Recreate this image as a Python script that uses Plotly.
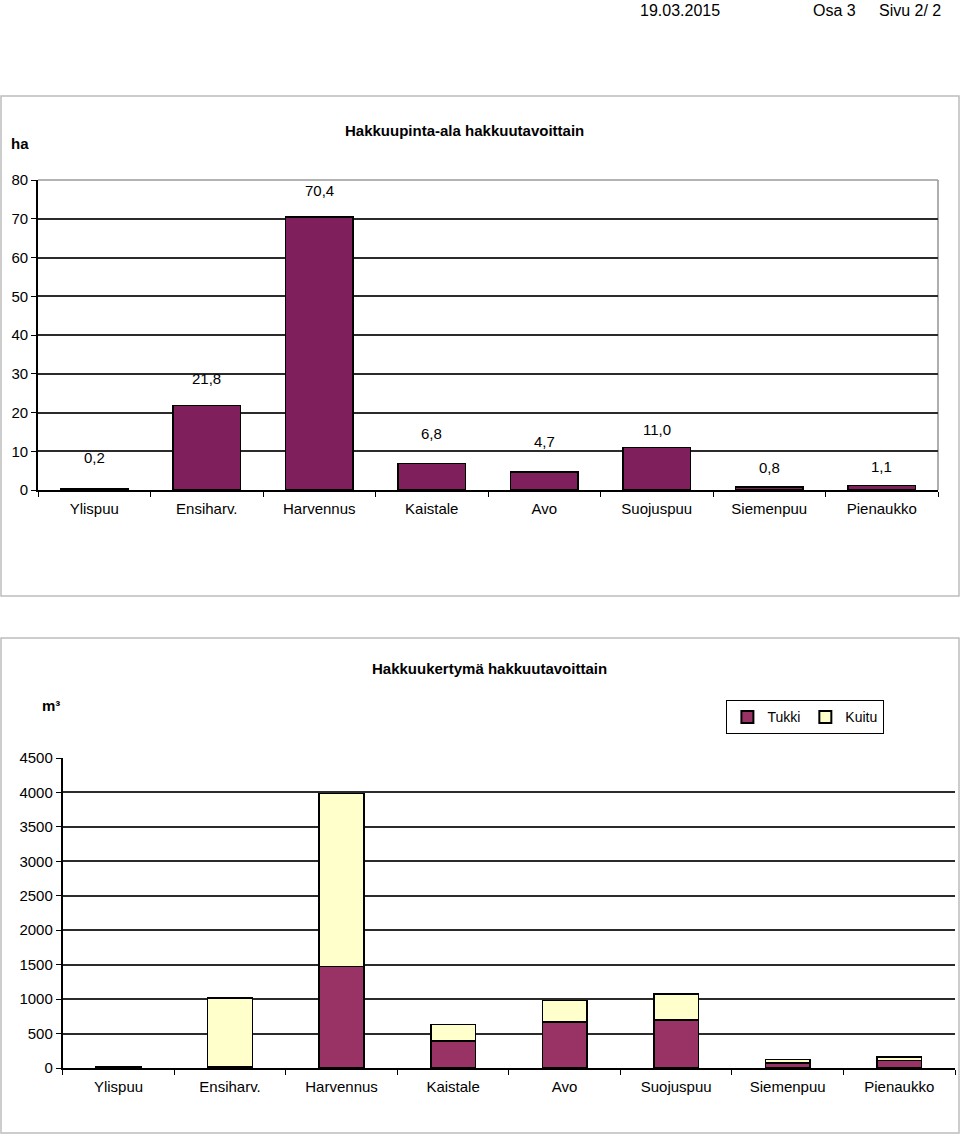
import plotly.graph_objects as go

# ---- data ----
categories = ["Ylispuu", "Ensiharv.", "Harvennus", "Kaistale", "Avo",
              "Suojuspuu", "Siemenpuu", "Pienaukko"]
area_ha = [0.2, 21.8, 70.4, 6.8, 4.7, 11.0, 0.8, 1.1]
area_labels = ["0,2", "21,8", "70,4", "6,8", "4,7", "11,0", "0,8", "1,1"]
tukki = [12, 20, 1470, 392, 668, 697, 73, 111]
kuitu = [8, 995, 2518, 242, 315, 377, 48, 49]
top_yticks = [0, 10, 20, 30, 40, 50, 60, 70, 80]
bot_yticks = [0, 500, 1000, 1500, 2000, 2500, 3000, 3500, 4000, 4500]

# ---- style / layout ----
W, H = 960, 1136
FONT = "Liberation Sans, Arial, sans-serif"
label_shift = [32, 27, 27, 30, 30, 18, 19, 19]

def px_x(v):
    return v / W

def px_y(v):
    return 1 - v / H

top_dom_x = [px_x(38), px_x(938)]
top_dom_y = [px_y(490), px_y(180)]
bot_dom_x = [px_x(62.7), px_x(955)]
bot_dom_y = [px_y(1068), px_y(758)]

fig = go.Figure()

fig.add_trace(go.Bar(
    x=categories, y=area_ha, xaxis="x", yaxis="y", width=0.6,
    marker=dict(color="#7F1F5C", line=dict(color="#000000", width=1.5)),
    showlegend=False, hoverinfo="x+y"))

fig.add_trace(go.Bar(
    x=categories, y=tukki, name="Tukki", xaxis="x2", yaxis="y2", width=0.4,
    marker=dict(color="#993366", line=dict(color="#000000", width=1.5))))
fig.add_trace(go.Bar(
    x=categories, y=kuitu, name="Kuitu", xaxis="x2", yaxis="y2", width=0.4,
    marker=dict(color="#FFFFCC", line=dict(color="#000000", width=1.5))))

axis_font = dict(family=FONT, size=15, color="#000000")

def cat_axis(dom, anchor):
    return dict(domain=dom, anchor=anchor, type="category", automargin=False,
                showline=True, linecolor="#000000", linewidth=1.8,
                ticks="outside", tickson="boundaries", ticklen=5,
                tickcolor="#000000", tickwidth=1.3,
                tickfont=axis_font, ticklabelstandoff=4,
                showgrid=False, fixedrange=True)

def val_axis(dom, anchor, rng, tv):
    return dict(domain=dom, anchor=anchor, range=rng, tickvals=tv,
                automargin=False,
                showline=True, linecolor="#000000", linewidth=1.8,
                ticks="outside", ticklen=5, tickcolor="#000000",
                tickwidth=1.3, tickfont=axis_font,
                showgrid=True, gridcolor="#2b2b2b", gridwidth=1.6,
                zeroline=False, fixedrange=True)

fig.update_layout(
    template="none",
    width=W, height=H, autosize=False,
    margin=dict(l=0, r=0, t=0, b=0, pad=0, autoexpand=False),
    paper_bgcolor="white", plot_bgcolor="white",
    barmode="stack",
    font=dict(family=FONT, size=15, color="#000000"),
    xaxis=cat_axis(top_dom_x, "y"),
    yaxis=val_axis(top_dom_y, "x", [0, 80], top_yticks),
    xaxis2=cat_axis(bot_dom_x, "y2"),
    yaxis2=val_axis(bot_dom_y, "x2", [0, 4500], bot_yticks),
    legend=dict(orientation="h", x=px_x(884), y=px_y(700),
                xanchor="right", yanchor="top",
                traceorder="normal",
                bordercolor="#000000", borderwidth=1.4,
                bgcolor="white",
                font=dict(family=FONT, size=14, color="#000000"),
                itemwidth=30, itemsizing="constant"),
)

def note(x, y, text, size=15):
    return dict(x=px_x(x), y=px_y(y), xref="paper", yref="paper",
                xanchor="center", yanchor="middle",
                text=text, showarrow=False,
                font=dict(family=FONT, size=size, color="#000000"))

annotations = []
for cat, val, lab, sh in zip(categories, area_ha, area_labels, label_shift):
    annotations.append(dict(x=cat, y=val, xref="x", yref="y", text=lab,
                            xanchor="center", yanchor="middle",
                            showarrow=False, yshift=sh,
                            font=dict(family=FONT, size=15, color="#000000")))

annotations += [
    note(464, 130, "<b>Hakkuupinta-ala hakkuutavoittain</b>"),
    note(20, 143, "<b>ha</b>"),
    note(489, 668, "<b>Hakkuukertymä hakkuutavoittain</b>"),
    note(51, 705, "<b>m³</b>"),
    note(680, 11, "19.03.2015", 16),
    note(834, 11, "Osa 3", 16),
    note(910, 11, "Sivu 2/ 2", 16),
]
fig.update_layout(annotations=annotations)

shapes = [
    dict(type="rect", xref="paper", yref="paper",
         x0=px_x(1), x1=px_x(959), y0=px_y(596), y1=px_y(96),
         line=dict(color="#BDBDBD", width=1.5), layer="below"),
    dict(type="rect", xref="paper", yref="paper",
         x0=px_x(1), x1=px_x(959), y0=px_y(1133), y1=px_y(638),
         line=dict(color="#BDBDBD", width=1.5), layer="below"),
    dict(type="line", xref="paper", yref="paper",
         x0=top_dom_x[0], x1=top_dom_x[1], y0=top_dom_y[1], y1=top_dom_y[1],
         line=dict(color="#9A9A9A", width=1.6), layer="above"),
    dict(type="line", xref="paper", yref="paper",
         x0=top_dom_x[1], x1=top_dom_x[1], y0=top_dom_y[0], y1=top_dom_y[1],
         line=dict(color="#9A9A9A", width=1.6), layer="below"),
]
fig.update_layout(shapes=shapes)

page_fix = (
    "document.documentElement.style.margin='0';"
    "document.documentElement.style.padding='0';"
    "document.documentElement.style.overflow='hidden';"
    "document.body.style.margin='0';"
    "document.body.style.padding='0';"
    "document.body.style.overflow='hidden';"
    "var gd=document.getElementById('{plot_id}');"
    "gd.style.position='absolute';gd.style.top='0px';gd.style.left='0px';"
)

fig.write_html(
    "out.html",
    config={"displayModeBar": False},
    post_script=page_fix,
)
